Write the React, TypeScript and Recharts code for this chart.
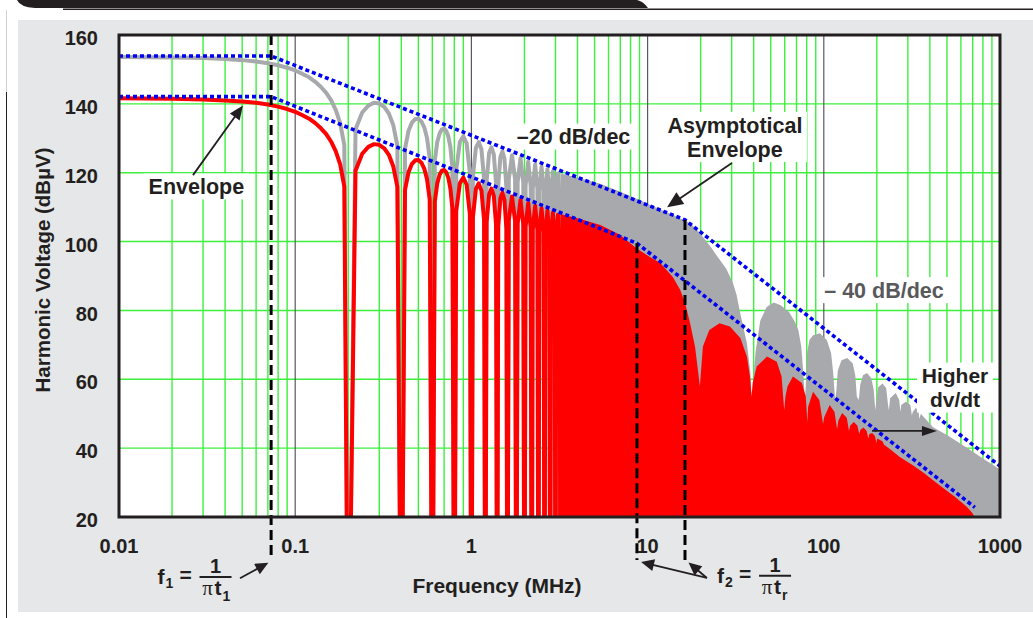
import React from "react";
import {
  ComposedChart,
  Line,
  Area,
  XAxis,
  YAxis,
  CartesianGrid,
  ReferenceLine,
  ReferenceArea,
  ReferenceDot,
} from "recharts";

const INK = "#231f20";
const RED = "#ff0000";
const GRAY = "#a7a9ac";
const BLUE = "#0000f5";
const GREEN = "#3cf03c";
const FONT = "'Liberation Sans', Arial, Helvetica, sans-serif";

const X_TICKS = [0.01, 0.1, 1, 10, 100, 1000];
const Y_TICKS = [20, 40, 60, 80, 100, 120, 140, 160];
const DECADES = [0.1, 1, 10, 100];
const GRID_X = [0.01, 0.1, 1, 10, 100].flatMap((d) => [2, 3, 4, 5, 6, 7, 8, 9].map((m) => d * m));
const GRID_Y = [40, 60, 80, 100, 120, 140];

// harmonic lobes up to ~3 MHz, drawn as lines (MHz, dBuV); the zeros drop off the axis
const LOBE_MHZ = [
  0.01, 0.02, 0.03, 0.04, 0.05, 0.06, 0.07, 0.08, 0.09, 0.1, 0.11, 0.12, 0.13, 0.14, 0.15, 0.16, 0.17, 0.18, 0.19, 0.2,
  0.22, 0.24, 0.26, 0.28, 0.3, 0.32, 0.34, 0.36, 0.38, 0.4,
  0.42, 0.44, 0.46, 0.48, 0.5, 0.52, 0.54, 0.56, 0.58, 0.6,
  0.62, 0.64, 0.66, 0.68, 0.7, 0.72, 0.74, 0.76, 0.78, 0.8,
  0.82, 0.86, 0.9, 0.94, 0.98, 1.0,
  1.02, 1.06, 1.1, 1.14, 1.18, 1.2,
  1.22, 1.26, 1.3, 1.34, 1.38, 1.4,
  1.42, 1.46, 1.5, 1.54, 1.58, 1.6,
  1.63, 1.7, 1.77, 1.8,
  1.83, 1.9, 1.97, 2.0,
  2.03, 2.1, 2.17, 2.2,
  2.23, 2.3, 2.37, 2.4,
  2.43, 2.5, 2.57, 2.6,
  2.63, 2.7, 2.77, 2.8,
  2.83, 2.9, 2.97, 3.0,
  3.03, 3.1, 3.17, 3.2,
];
const RED_LOBE_DB = [
  141.6, 141.5, 141.3, 141.0, 140.7, 140.3, 139.8, 139.2, 138.5, 137.7, 136.7, 135.7, 134.4, 132.9, 131.2, 129.0, 126.2, 122.4, 116.0, -40,
  120.6, 125.5, 127.5, 128.3, 128.1, 127.1, 125.2, 121.9, 115.9, -40,
  115.0, 120.2, 122.6, 123.6, 123.7, 122.9, 121.2, 118.1, 112.2, -40,
  111.6, 116.9, 119.4, 120.6, 120.8, 120.1, 118.5, 115.4, 109.6, -40,
  108.8, 116.9, 118.6, 116.5, 108.0, -40,
  107.0, 115.2, 116.9, 114.8, 106.3, -40,
  105.5, 113.7, 115.4, 113.3, 104.9, -40,
  104.3, 112.5, 114.2, 112.1, 103.7, -40,
  106.2, 113.1, 106.0, -40,
  105.2, 112.1, 105.0, -40,
  104.3, 111.2, 104.1, -40,
  103.5, 110.4, 103.3, -40,
  102.8, 109.7, 102.6, -40,
  102.1, 109.0, 101.9, -40,
  101.5, 108.4, 101.3, -40,
  100.9, 107.8, 100.7, -40,
];
const GRAY_LOBE_DB = [
  153.6, 153.5, 153.3, 153.0, 152.7, 152.3, 151.8, 151.2, 150.5, 149.7, 148.7, 147.7, 146.4, 144.9, 143.2, 141.0, 138.2, 134.4, 128.0, -40,
  132.6, 137.5, 139.5, 140.3, 140.1, 139.1, 137.2, 133.9, 127.9, -40,
  127.0, 132.2, 134.6, 135.6, 135.7, 134.9, 133.2, 130.1, 124.2, -40,
  123.6, 128.9, 131.4, 132.6, 132.8, 132.1, 130.5, 127.4, 121.6, -40,
  120.8, 128.9, 130.6, 128.5, 120.0, -40,
  119.0, 127.2, 128.9, 126.8, 118.3, -40,
  117.5, 125.7, 127.4, 125.3, 116.9, -40,
  116.3, 124.5, 126.2, 124.1, 115.7, -40,
  118.2, 125.1, 118.0, -40,
  117.2, 124.1, 117.0, -40,
  116.3, 123.2, 116.1, -40,
  115.5, 122.4, 115.3, -40,
  114.8, 121.7, 114.6, -40,
  114.1, 121.0, 113.9, -40,
  113.5, 120.4, 113.3, -40,
  112.9, 119.8, 112.7, -40,
];

// dense part of the spectrum (top contour), drawn filled
const RED_FILL: [number, number][] = [
  [3.2, 108], [4, 106.8], [5.4, 104.8], [7, 101.9], [8.6, 98.1], [10.3, 95.5], [11.8, 93.8], [13.9, 89.7],
  [15.3, 86], [16.3, 82.2], [17.4, 76.4], [18.6, 69.4], [19.8, 58],
  [20.6, 69.5], [22.4, 74.3], [25.6, 76.3], [29.3, 75.3], [33.6, 72], [36.6, 66.6], [38.1, 60.8], [38.9, 55],
  [39.5, 59], [41.6, 63.7], [47.6, 66.6], [54.1, 65.1], [57.6, 60.8], [59.6, 51],
  [60.6, 55], [62.2, 57.9], [66.8, 60.8], [75.1, 58.9], [79, 55], [80.6, 47.5],
  [81.5, 52], [86.9, 56.4], [94.3, 54], [99, 47],
  [100.5, 49], [108, 52.5], [115, 50.5], [119, 45.5],
  [121, 48], [127, 50.2], [135, 48.8], [139, 45],
  [141, 46.5], [148, 47.6], [155, 46.6], [159, 44],
  [161, 45.3], [168, 46], [175, 45], [179, 42.8],
  [181, 44], [188, 44.4], [195, 43.5], [199, 41.5],
  [201, 42.8], [215, 42], [220, 41], [240, 39.5], [270, 37.4], [320, 35], [370, 32.8], [417, 30.7],
  [480, 28.3], [550, 26], [650, 22.9], [700, 21], [730, 19],
];
const GRAY_FILL: [number, number][] = [
  [3.2, 119.8], [4, 118.6], [5.4, 116.8], [7, 114.5], [8.6, 112.5], [10, 111], [12, 109.2], [14, 107.7],
  [16, 106.3], [17.4, 105.4], [19, 103.5], [21, 100.8], [23, 98.2], [25, 95.5], [28, 92], [30.5, 88],
  [32, 84.5], [33.5, 79.3], [35, 75], [36.6, 70.5], [38.3, 62], [39.2, 52],
  [39.6, 58], [41, 68], [43.6, 77], [47.4, 81], [52, 82.3], [57, 81.5], [63.6, 79.5], [68, 77], [71.7, 74.3],
  [74.5, 69.5], [76.5, 62], [78, 54],
  [79, 58], [80.5, 68], [83, 71.5], [87, 72.8], [95, 73.4], [104, 71.4], [110, 67.6], [113, 62], [116, 54],
  [118, 57], [120, 62.5], [126, 65.5], [136, 66.2], [146, 64.6], [151, 61], [154, 55],
  [158, 54], [161, 58.5], [167, 61.2], [176, 61.8], [186, 60.3], [192, 57], [196, 51],
  [199, 54], [203, 57.6], [215, 58.8], [226, 57.5], [231, 53],
  [234, 51], [238, 54.5], [256, 56], [268, 54], [272, 50.5],
  [275, 52.5], [292, 53.5], [310, 52.5], [316, 49.5],
  [320, 50.5], [333, 51.7], [345, 50.5], [349, 48.5],
  [355, 50], [417, 46.1], [500, 43.8], [655, 40], [800, 37], [1000, 33.8],
];

// asymptotical envelopes
const UPPER_ASYM: [number, number][] = [[0.01, 153.9], [0.073, 153.9], [16.3, 106.3], [1000, 34.8]];
const LOWER_ASYM: [number, number][] = [[0.01, 142.1], [0.073, 142.1], [8.7, 99.5], [720, 22.8]];

// corner frequencies (MHz)
const F1 = 0.073;
const F2_RED = 8.7;
const F2_GRAY = 16.3;

const LOBE_ROWS = LOBE_MHZ.map((f, i) => ({ f, red: RED_LOBE_DB[i], gray: GRAY_LOBE_DB[i] }));
const rows = (pts: [number, number][]) => pts.map(([f, db]) => ({ f, db }));

type Note = { lines: string[]; at: [number, number]; w: number; size: number; color?: string };
const NOTES: Note[] = [
  { lines: ["Envelope"], at: [0.0275, 116.0], w: 106, size: 21.5 },
  { lines: ["\u201320 dB/dec"], at: [3.8, 130.5], w: 122, size: 21.5 },
  { lines: ["Asymptotical", "Envelope"], at: [31.3, 130.4], w: 144, size: 21.5 },
  { lines: ["\u2013 40 dB/dec"], at: [219.6, 85.9], w: 128, size: 21.5, color: "#58595b" },
  { lines: ["Higher", "dv/dt"], at: [555.5, 57.6], w: 76, size: 21 },
];

type Arrow = { from: [number, number]; to: [number, number]; head: number; half: number };
const ARROWS: Arrow[] = [
  { from: [0.0263, 119.3], to: [0.0505, 139.5], head: 14, half: 6 },
  { from: [30.1, 122.8], to: [12.9, 110.0], head: 16, half: 7 },
  { from: [187.8, 45.0], to: [438.8, 45.0], head: 15, half: 5 },
  { from: [0.0486, 2.2], to: [0.0704, 6.7], head: 13, half: 6 },
  { from: [21.7, 2.3], to: [9.18, 6.9], head: 13, half: 6 },
  { from: [21.7, 2.3], to: [17.06, 6.8], head: 13, half: 6 },
];

const arrowShape = (a: Arrow) => (p: any) => {
  const { x1, y1, x2, y2 } = p;
  const len = Math.hypot(x2 - x1, y2 - y1) || 1;
  const ux = (x2 - x1) / len;
  const uy = (y2 - y1) / len;
  const bx = x2 - ux * a.head;
  const by = y2 - uy * a.head;
  return (
    <g>
      <line x1={x1} y1={y1} x2={bx + ux * 2} y2={by + uy * 2} stroke={INK} strokeWidth={1.8} />
      <polygon
        points={`${x2},${y2} ${bx - uy * a.half},${by + ux * a.half} ${bx + uy * a.half},${by - ux * a.half}`}
        fill={INK}
      />
    </g>
  );
};

const noteShape = (n: Note) => (p: any) => {
  const lh = 24;
  const h = n.lines.length * lh + 2;
  return (
    <g>
      <rect x={p.cx - n.w / 2} y={p.cy - h / 2} width={n.w} height={h} fill="#ffffff" />
      <text textAnchor="middle" fontFamily={FONT} fontWeight="bold" fontSize={n.size} fill={n.color ?? INK}>
        {n.lines.map((l, i) => (
          <tspan key={i} x={p.cx} y={p.cy + (i - (n.lines.length - 1) / 2) * lh + n.size * 0.36}>
            {l}
          </tspan>
        ))}
      </text>
    </g>
  );
};

const fractionShape = (sub: string, sub2: string) => (p: any) => {
  const { cx, cy } = p;
  return (
    <g fill={INK} fontFamily={FONT} fontWeight="bold">
      <text x={cx - 58} y={cy + 7} fontSize={21}>f</text>
      <text x={cx - 50} y={cy + 11} fontSize={14}>{sub}</text>
      <text x={cx - 30} y={cy + 5} fontSize={21} textAnchor="middle">=</text>
      <text x={cx} y={cy - 4} fontSize={20} textAnchor="middle">1</text>
      <line x1={cx - 16} x2={cx + 16} y1={cy} y2={cy} stroke={INK} strokeWidth={2} />
      <text x={cx - 8} y={cy + 18} fontSize={21} fontFamily="'Liberation Serif', serif" fontWeight="normal" textAnchor="middle">
        {"\u03c0"}
      </text>
      <text x={cx - 1} y={cy + 18} fontSize={21}>t</text>
      <text x={cx + 7} y={cy + 24} fontSize={14}>{sub2}</text>
    </g>
  );
};

const yTitle = (p: any) => {
  const vb = p.viewBox || { x: 0, y: 35, width: 119, height: 482 };
  const x = vb.x + 50;
  const y = vb.y + vb.height / 2 - 6;
  return (
    <text x={x} y={y} transform={`rotate(-90 ${x} ${y})`} textAnchor="middle" fontFamily={FONT} fontWeight="bold" fontSize={20.5} fill={INK}>
      Harmonic Voltage (dB{"\u00b5"}V)
    </text>
  );
};

const xTitle = (p: any) => {
  const vb = p.viewBox || { x: 119, y: 517, width: 881, height: 101 };
  return (
    <text x={vb.x + 378} y={vb.y + 76} textAnchor="middle" fontFamily={FONT} fontWeight="bold" fontSize={21} fill={INK}>
      Frequency (MHz)
    </text>
  );
};

const tickStyle = { fill: INK, fontSize: 20, fontWeight: "bold", fontFamily: FONT };

export default function App() {
  return (
    <div style={{ position: "absolute", left: 0, top: 0, width: 1033, height: 618, background: "#fff", overflow: "hidden" }}>
      <svg width={1033} height={20} style={{ position: "absolute", left: 0, top: 0 }}>
        <path d="M17,0 L637,0 Q643,1 648,8 L35,8 Q20,7 17,0 Z" fill={INK} />
        <line x1={63} x2={1033} y1={9.3} y2={9.3} stroke={INK} strokeWidth={1.4} />
      </svg>
      <div style={{ position: "absolute", left: 5.5, top: 10, width: 1.2, height: 82, background: "#d0d0d0" }} />
      <div style={{ position: "absolute", left: 5.5, top: 92, width: 1.6, height: 526, background: INK }} />
      <div style={{ position: "absolute", left: 18, top: 20, width: 1015, height: 592, background: "#e6e7e8" }} />
      <div style={{ position: "absolute", left: 0, top: 0 }}>
        <ComposedChart width={1033} height={618} margin={{ top: 35, right: 33, bottom: 0, left: 0 }}>
          <CartesianGrid verticalValues={GRID_X} horizontalValues={GRID_Y} stroke={GREEN} strokeWidth={1.4} fill="#ffffff" fillOpacity={1} />
          <CartesianGrid verticalValues={DECADES} horizontal={false} stroke="#58595b" strokeWidth={1.2} />
          <XAxis
            dataKey="f"
            type="number"
            scale="log"
            domain={[0.01, 1000]}
            allowDataOverflow
            ticks={X_TICKS}
            interval={0}
            tickLine={false}
            axisLine={false}
            tickSize={0}
            tickMargin={22}
            height={101}
            tick={tickStyle}
            tickFormatter={(v) => String(v)}
            label={xTitle}
          />
          <YAxis
            type="number"
            domain={[20, 160]}
            allowDataOverflow
            ticks={Y_TICKS}
            interval={0}
            tickLine={false}
            axisLine={false}
            tickSize={0}
            tickMargin={21}
            width={119}
            tick={{ ...tickStyle, dy: 3 }}
            label={yTitle}
          />
          <Area data={rows(GRAY_FILL)} dataKey="db" type="linear" stroke="none" fill={GRAY} fillOpacity={1} isAnimationActive={false} activeDot={false} zIndex={100} />
          <Line data={LOBE_ROWS} dataKey="gray" type="linear" stroke={GRAY} strokeWidth={4} strokeLinejoin="round" dot={false} activeDot={false} isAnimationActive={false} zIndex={101} />
          <Area data={rows(RED_FILL)} dataKey="db" type="linear" stroke="none" fill={RED} fillOpacity={1} isAnimationActive={false} activeDot={false} zIndex={102} />
          <Line data={LOBE_ROWS} dataKey="red" type="linear" stroke={RED} strokeWidth={4} strokeLinejoin="round" dot={false} activeDot={false} isAnimationActive={false} zIndex={103} />
          <Line data={rows(UPPER_ASYM)} dataKey="db" type="linear" stroke={BLUE} strokeWidth={3.6} strokeDasharray="4 3" dot={false} activeDot={false} isAnimationActive={false} zIndex={450} />
          <Line data={rows(LOWER_ASYM)} dataKey="db" type="linear" stroke={BLUE} strokeWidth={3.6} strokeDasharray="4 3" dot={false} activeDot={false} isAnimationActive={false} zIndex={450} />
          <ReferenceLine segment={[{ x: F1, y: 160 }, { x: F1, y: 8.4 }]} stroke="#000" strokeWidth={3} strokeDasharray="10 5" ifOverflow="visible" zIndex={650} />
          <ReferenceLine segment={[{ x: F2_RED, y: 99.5 }, { x: F2_RED, y: 7.5 }]} stroke="#000" strokeWidth={3} strokeDasharray="10 5" ifOverflow="visible" zIndex={650} />
          <ReferenceLine segment={[{ x: F2_GRAY, y: 106.3 }, { x: F2_GRAY, y: 7.5 }]} stroke="#000" strokeWidth={3} strokeDasharray="10 5" ifOverflow="visible" zIndex={650} />
          <ReferenceArea x1={0.01} x2={1000} y1={20} y2={160} fill="none" stroke={INK} strokeWidth={3} ifOverflow="visible" zIndex={700} />
          {NOTES.map((n, i) => (
            <ReferenceDot key={`n${i}`} x={n.at[0]} y={n.at[1]} r={0} ifOverflow="visible" shape={noteShape(n)} zIndex={800} />
          ))}
          {ARROWS.map((a, i) => (
            <ReferenceLine key={`a${i}`} segment={[{ x: a.from[0], y: a.from[1] }, { x: a.to[0], y: a.to[1] }]} ifOverflow="visible" shape={arrowShape(a)} zIndex={800} />
          ))}
          <ReferenceDot x={0.0353} y={2.6} r={0} ifOverflow="visible" shape={fractionShape("1", "1")} zIndex={800} />
          <ReferenceDot x={52.9} y={2.9} r={0} ifOverflow="visible" shape={fractionShape("2", "r")} zIndex={800} />
        </ComposedChart>
      </div>
    </div>
  );
}
